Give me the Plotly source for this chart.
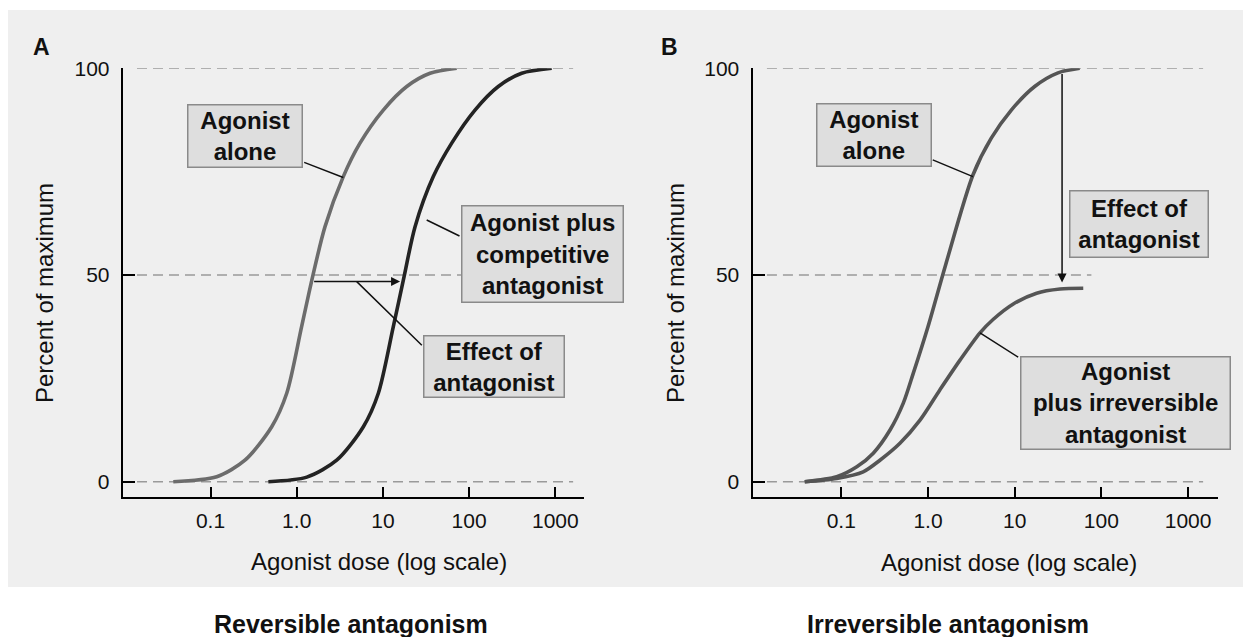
import numpy as np
import plotly.graph_objects as go
from plotly.subplots import make_subplots

W, H = 1248, 637
FONT = "Liberation Sans, Arial, Helvetica, sans-serif"

# dose-response curves (dose, % of maximum)
dose_alone_a = [0.037, 0.118, 0.251, 0.513, 0.766, 1.14, 1.53, 2.13, 3.47, 5.42, 10.1, 18.9, 35.2, 71.8]
resp_alone_a = [0, 1.2, 5.2, 13.3, 21.4, 37.5, 49.6, 61.7, 73.8, 81.9, 89.9, 95.6, 98.8, 100]

dose_comp_a = [0.469, 1.31, 2.91, 5.93, 8.85, 13.2, 17.6, 23.6, 38.4, 62.8, 117, 218, 407, 908]
resp_comp_a = [0, 1.1, 5.2, 13.3, 21.4, 37.5, 49.6, 61.7, 73.8, 81.9, 89.9, 95.6, 98.8, 100]

dose_alone_b = [0.0379, 0.0885, 0.151, 0.234, 0.365, 0.519, 0.676, 1.0, 1.6, 3.30, 5.37, 9.14, 17.0, 31.6, 56.2]
resp_alone_b = [0, 1.2, 3.6, 6.9, 12.5, 19.0, 26.2, 37.5, 52.5, 74.2, 83.1, 89.9, 95.6, 98.9, 100]

dose_irrev_b = [0.0379, 0.0885, 0.179, 0.279, 0.475, 0.809, 1.37, 2.34, 3.98, 5.67, 9.64, 17.9, 33.3, 61.8]
resp_irrev_b = [0, 0.8, 2.4, 5.2, 9.3, 14.9, 22.2, 29.4, 36.0, 39.3, 43.0, 45.6, 46.6, 46.8]

dose_ticks = [0.1, 1, 10, 100, 1000]
dose_ticktext = ["0.1", "1.0", "10", "100", "1000"]
pct_ticks = [0, 50, 100]

# shift of the agonist curve in A, drop of the maximum in B
effect_a = dict(start=1.53, end=15.8, level=48.4)
effect_b = dict(dose=35.2, top=99, bottom=48.2)


def paper(x, y):
    return x / W, 1 - y / H


fig = make_subplots(rows=1, cols=2)

curves = [
    (dose_alone_a, resp_alone_a, "#6c6c6c", 1),
    (dose_comp_a, resp_comp_a, "#232323", 1),
    (dose_alone_b, resp_alone_b, "#555555", 2),
    (dose_irrev_b, resp_irrev_b, "#555555", 2),
]
for xs, ys, color, col in curves:
    fig.add_trace(go.Scatter(x=xs, y=ys, mode="lines", cliponaxis=False, hoverinfo="skip",
                             line=dict(color=color, width=3.6, shape="spline", smoothing=0.8)),
                  row=1, col=col)

# light grey panel behind the figure
x0, y0 = paper(8, 10)
x1, y1 = paper(1243, 587)
fig.add_shape(type="rect", xref="paper", yref="paper", x0=x0, y0=y1, x1=x1, y1=y0,
              fillcolor="#efefef", line_width=0, layer="below")

# dashed reference lines
ref_lines = [("x", "y", 0, 0.976), ("x", "y", 50, 0.976), ("x", "y", 100, 0.976),
             ("x2", "y2", 0, 0.968), ("x2", "y2", 50, 0.728), ("x2", "y2", 100, 0.968)]
for xr, yr, lvl, end in ref_lines:
    fig.add_shape(type="line", xref=xr + " domain", yref=yr, x0=0.031, x1=end, y0=lvl, y1=lvl,
                  line=dict(color="#9a9a9a", width=1.5, dash="10px,6px"), layer="below")

axis_common = dict(showline=True, linecolor="black", linewidth=2, ticks="inside",
                   tickcolor="black", tickwidth=1.5, showgrid=False, zeroline=False,
                   automargin=False, tickfont=dict(family=FONT, size=21, color="#111"))
fig.update_xaxes(type="log", tickvals=dose_ticks, ticktext=dose_ticktext, ticklen=10,
                 ticklabelstandoff=4, **axis_common)
fig.update_yaxes(range=[-3.7, 100], tickvals=pct_ticks, ticklen=12, ticklabelstandoff=7,
                 **axis_common)
fig.update_layout(
    xaxis=dict(domain=[122.7 / W, 584.2 / W], range=[-2.0186, 3.335]),
    xaxis2=dict(domain=[752.5 / W, 1218 / W], range=[-2.024, 3.345]),
    yaxis=dict(domain=[1 - 497 / H, 1 - 68.3 / H]),
    yaxis2=dict(domain=[1 - 497 / H, 1 - 68.3 / H]),
)

# plain texts
texts = [
    ("A", 41.7, 47.5, 23, "bold", 0),
    ("B", 669.7, 46.7, 23, "bold", 0),
    ("Percent of maximum", 44, 293, 24, "normal", -90),
    ("Percent of maximum", 675, 293, 24, "normal", -90),
    ("Agonist dose (log scale)", 379.4, 561.7, 24, "normal", 0),
    ("Agonist dose (log scale)", 1009.4, 562, 24, "normal", 0),
    ("Reversible antagonism", 350.6, 624, 25, "bold", 0),
    ("Irreversible antagonism", 947.8, 624, 25, "bold", 0),
]
for t, x, y, size, weight, angle in texts:
    px_, py_ = paper(x, y)
    fig.add_annotation(text=t, x=px_, y=py_, xref="paper", yref="paper", showarrow=False,
                       xanchor="center", yanchor="middle", textangle=angle,
                       font=dict(family=FONT, size=size, weight=weight, color="#111"))

# label boxes: text, left, top, right, bottom (pixels)
boxes = [
    ("Agonist<br>alone", 186.7, 104.3, 302.7, 168.3),
    ("Agonist plus<br>competitive<br>antagonist", 460.7, 205, 624, 303.3),
    ("Effect of<br>antagonist", 422.7, 335, 564.3, 398.3),
    ("Agonist<br>alone", 815.7, 103.3, 931.3, 167.3),
    ("Effect of<br>antagonist", 1069, 190.7, 1209, 258.3),
    ("Agonist<br>plus irreversible<br>antagonist", 1019.7, 356, 1231, 450),
]
for t, l, tp, r, b in boxes:
    cx, cy = paper((l + r) / 2, (tp + b) / 2)
    fig.add_annotation(text=t, x=cx, y=cy, xref="paper", yref="paper", showarrow=False,
                       xanchor="center", yanchor="middle", width=r - l - 3, height=b - tp - 3,
                       align="center", valign="middle", bgcolor="#dedede",
                       bordercolor="#8a8a8a", borderwidth=1.5, borderpad=0,
                       font=dict(family=FONT, size=24, weight="bold", color="#111"))

# leader lines from boxes to curves: (xref, yref, dose, pct, dx, dy)
leaders = [
    ("x", "y", 3.47, 73.6, -40.6, -15.6),
    ("x", "y", 32.2, 63.3, 34.3, 16.7),
    ("x", "y", 4.97, 48.4, 66.6, 65.1),
    ("x2", "y2", 3.30, 73.8, -41.7, -17.4),
    ("x2", "y2", 3.98, 36.0, 39.7, 25.3),
]
for xr, yr, d, p, dx, dy in leaders:
    fig.add_annotation(text="", x=np.log10(d), y=p, xref=xr, yref=yr, ax=dx, ay=dy,
                       showarrow=True, arrowhead=0, arrowwidth=1.5, arrowcolor="#111")

# effect arrows
fig.add_annotation(text="", xref="x", yref="y", axref="x", ayref="y",
                   x=np.log10(effect_a["end"]), y=effect_a["level"],
                   ax=np.log10(effect_a["start"]), ay=effect_a["level"],
                   showarrow=True, arrowhead=2, arrowsize=1.2, arrowwidth=1.5, arrowcolor="#111")
fig.add_annotation(text="", xref="x2", yref="y2", axref="x2", ayref="y2",
                   x=np.log10(effect_b["dose"]), y=effect_b["bottom"],
                   ax=np.log10(effect_b["dose"]), ay=effect_b["top"],
                   showarrow=True, arrowhead=2, arrowsize=1.2, arrowwidth=1.5, arrowcolor="#111")

fig.update_layout(width=W, height=H, margin=dict(l=0, r=0, t=0, b=0, autoexpand=False),
                  showlegend=False, paper_bgcolor="white", plot_bgcolor="rgba(0,0,0,0)",
                  font=dict(family=FONT, color="#111"))

# drop the default page margin so the figure sits at the window's corner
fig.write_html("out.html", config={"displayModeBar": False},
               post_script="document.body.style.margin='0';"
                           "document.documentElement.style.overflow='hidden';")
